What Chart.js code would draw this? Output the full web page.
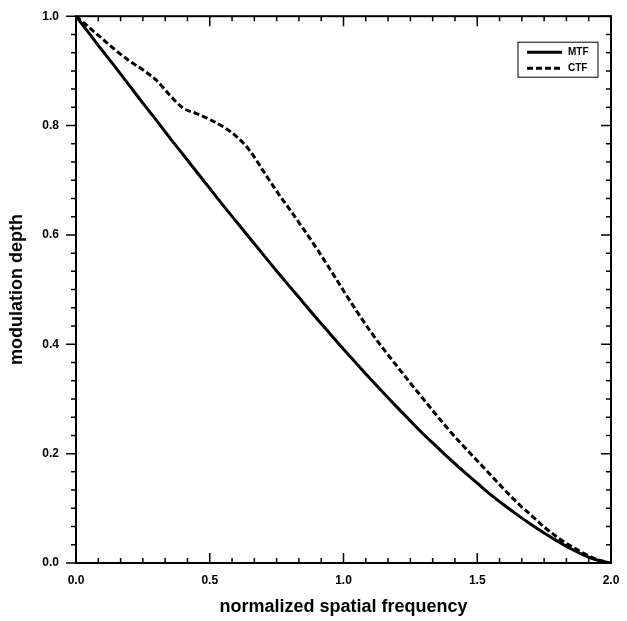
<!DOCTYPE html>
<html>
<head>
<meta charset="utf-8">
<script src="https://cdn.jsdelivr.net/npm/chart.js@4.4.1/dist/chart.umd.min.js"></script>
<style>
  html, body { margin: 0; padding: 0; background: #fff; }
  #wrap { width: 627px; height: 621px; position: relative; }
</style>
</head>
<body>
<div id="wrap"><canvas id="chart"></canvas></div>
<script>
// normalized spatial frequency (0 .. 2)
const freq = [0.00, 0.05, 0.10, 0.15, 0.20, 0.25, 0.30, 0.35, 0.40, 0.45,
              0.50, 0.55, 0.60, 0.65, 0.70, 0.75, 0.80, 0.85, 0.90, 0.95,
              1.00, 1.05, 1.10, 1.15, 1.20, 1.25, 1.30, 1.35, 1.40, 1.45,
              1.50, 1.55, 1.60, 1.65, 1.70, 1.75, 1.80, 1.85, 1.90, 1.95, 2.00];

const mtf = [1.000, 0.968, 0.936, 0.905, 0.873, 0.841, 0.810, 0.778, 0.747, 0.716,
             0.685, 0.654, 0.624, 0.594, 0.564, 0.534, 0.505, 0.476, 0.447, 0.419,
             0.391, 0.364, 0.337, 0.311, 0.285, 0.260, 0.235, 0.212, 0.189, 0.167,
             0.146, 0.125, 0.106, 0.088, 0.071, 0.055, 0.040, 0.026, 0.014, 0.005, 0.000];

const ctf = [1.000, 0.979, 0.958, 0.937, 0.918, 0.902, 0.883, 0.856, 0.832, 0.822,
             0.811, 0.798, 0.780, 0.754, 0.717, 0.680, 0.646, 0.611, 0.575, 0.537,
             0.498, 0.460, 0.424, 0.391, 0.360, 0.329, 0.299, 0.269, 0.240, 0.213,
             0.187, 0.161, 0.135, 0.110, 0.088, 0.066, 0.047, 0.031, 0.017, 0.006, 0.000];

const seriesNames = ['MTF', 'CTF'];
const xTickLabels = ['0.0', '0.5', '1.0', '1.5', '2.0'];
const yTickLabels = ['0.0', '0.2', '0.4', '0.6', '0.8', '1.0'];

const FONT = "'Liberation Sans', Arial, Helvetica, sans-serif";
Chart.defaults.font.family = FONT;
Chart.defaults.color = '#000';

// frame, Origin-style tick marks and the little legend box
const frameTicks = {
  id: 'frameTicks',
  afterDatasetsDraw(chart) {
    const { ctx, chartArea: a, scales } = chart;
    const xs = scales.x, ys = scales.y;
    ctx.save();
    ctx.strokeStyle = '#000';
    ctx.lineWidth = 2;
    ctx.strokeRect(a.left, a.top, a.right - a.left, a.bottom - a.top);

    ctx.lineWidth = 1.5;
    ctx.beginPath();
    // x: 6 sub-intervals per 0.5
    for (let i = 0; i <= 24; i++) {
      const px = xs.getPixelForValue(i * 2 / 24);
      const len = i % 6 === 0 ? 10 : 5;
      ctx.moveTo(px, a.bottom); ctx.lineTo(px, a.bottom - len);
      ctx.moveTo(px, a.top); ctx.lineTo(px, a.top + len);
    }
    // y: 6 sub-intervals per 0.2
    for (let i = 0; i <= 30; i++) {
      const py = ys.getPixelForValue(i / 30);
      const len = i % 6 === 0 ? 10 : 5;
      ctx.moveTo(a.left, py); ctx.lineTo(a.left - len, py);
      ctx.moveTo(a.right, py); ctx.lineTo(a.right - len, py);
    }
    ctx.stroke();

    // legend
    const bx = a.right - 93, by = a.top + 26, bw = 80, bh = 35;
    ctx.lineWidth = 1;
    ctx.strokeRect(bx, by, bw, bh);
    ctx.font = 'bold 10px ' + FONT;
    ctx.textBaseline = 'middle';
    ctx.fillStyle = '#000';
    chart.data.datasets.forEach((ds, k) => {
      const ly = by + 10 + k * 16;
      ctx.lineWidth = 3;
      ctx.setLineDash(ds.borderDash || []);
      ctx.beginPath();
      ctx.moveTo(bx + 9, ly); ctx.lineTo(bx + 44, ly);
      ctx.stroke();
      ctx.setLineDash([]);
      ctx.fillText(ds.label, bx + 50, ly);
    });
    ctx.restore();
  }
};

const toPoints = vals => freq.map((f, i) => ({ x: f, y: vals[i] }));

new Chart(document.getElementById('chart'), {
  type: 'line',
  data: {
    datasets: [
      {
        label: seriesNames[0],
        data: toPoints(mtf),
        borderColor: '#000',
        borderWidth: 3,
        pointRadius: 0,
        cubicInterpolationMode: 'monotone',
        fill: false,
      },
      {
        label: seriesNames[1],
        data: toPoints(ctf),
        borderColor: '#000',
        borderWidth: 3,
        borderDash: [6, 3],
        pointRadius: 0,
        cubicInterpolationMode: 'monotone',
        fill: false,
      }
    ]
  },
  options: {
    responsive: true,
    maintainAspectRatio: false,
    animation: false,
    layout: { padding: { left: 0, top: 11, right: 16, bottom: 0 } },
    plugins: {
      legend: { display: false },
      tooltip: { enabled: false },
    },
    scales: {
      x: {
        type: 'linear',
        min: 0,
        max: 2,
        grid: { display: false },
        border: { display: false },
        ticks: {
          stepSize: 0.5,
          padding: 2,
          font: { size: 12, weight: 'bold' },
          callback: (v, i) => xTickLabels[i],
        },
        title: {
          display: true,
          text: 'normalized spatial frequency',
          font: { size: 18, weight: 'bold' },
          padding: { top: 4, bottom: 3 },
        },
        afterFit: s => { s.height = 58; },
      },
      y: {
        min: 0,
        max: 1,
        grid: { display: false },
        border: { display: false },
        ticks: {
          stepSize: 0.2,
          padding: 9,
          font: { size: 12, weight: 'bold' },
          callback: (v, i) => yTickLabels[i],
        },
        title: {
          display: true,
          text: 'modulation depth',
          font: { size: 18, weight: 'bold' },
          padding: { top: 6, bottom: 4 },
        },
        afterFit: s => { s.width = 76; },
      }
    }
  },
  plugins: [frameTicks]
});
</script>
</body>
</html>
